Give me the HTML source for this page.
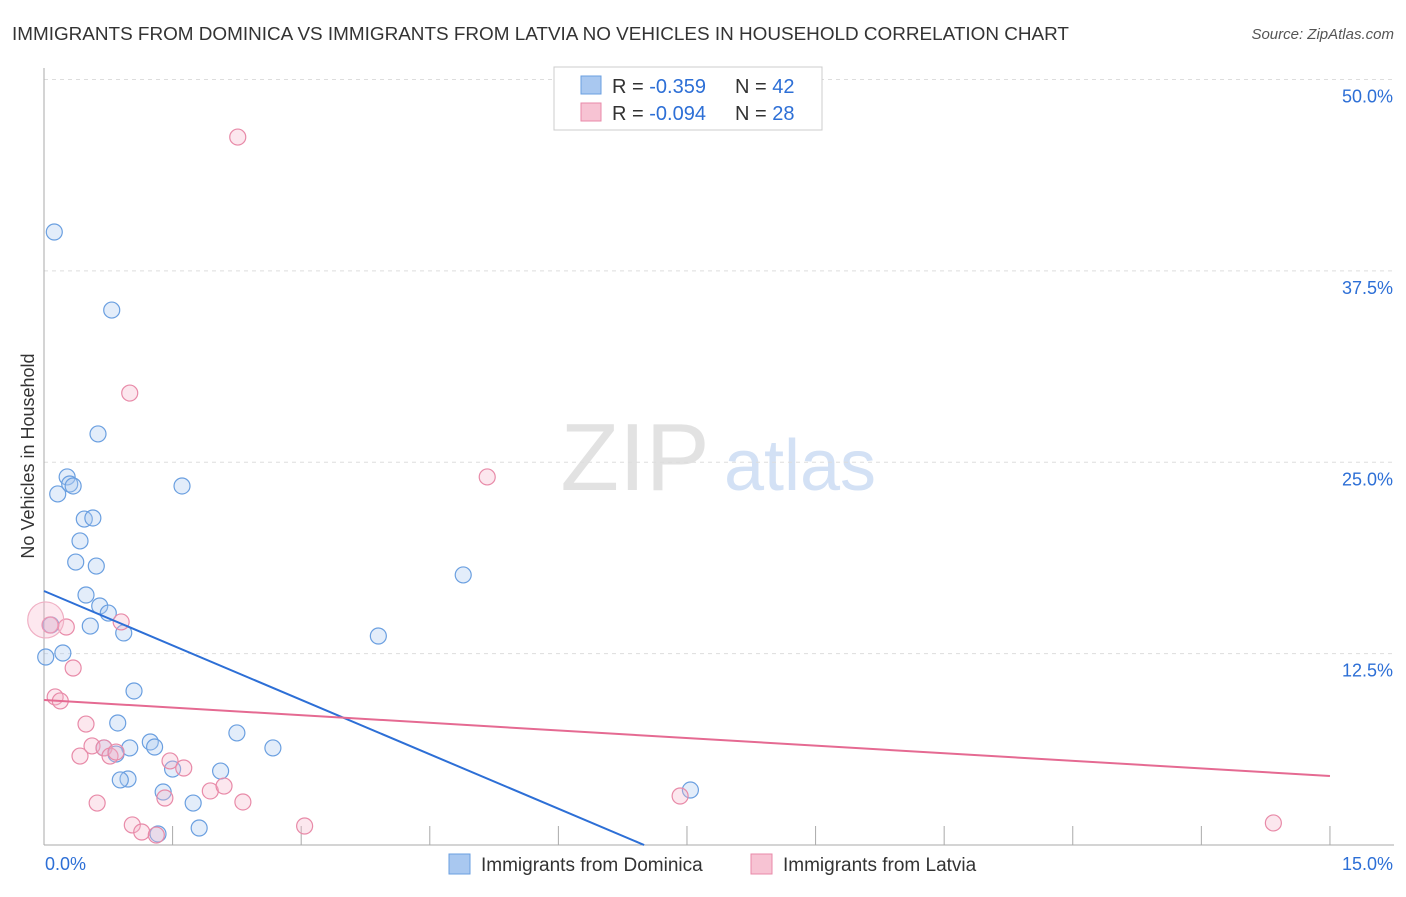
<!DOCTYPE html>
<html><head><meta charset="utf-8"><style>
body{margin:0;background:#fff;font-family:"Liberation Sans",sans-serif;}
svg text{font-family:"Liberation Sans",sans-serif;}
</style></head><body>
<svg id="c" width="1406" height="892" xmlns="http://www.w3.org/2000/svg">
<text x="12" y="40" font-size="18.9" fill="#333">IMMIGRANTS FROM DOMINICA VS IMMIGRANTS FROM LATVIA NO VEHICLES IN HOUSEHOLD CORRELATION CHART</text>
<text x="1394" y="39" font-size="15" fill="#555" font-style="italic" text-anchor="end">Source: ZipAtlas.com</text>
<g><text x="635" y="490" font-size="96" fill="#e2e2e2" font-family="Liberation Serif" text-anchor="middle">ZIP</text><text x="800" y="490" font-size="72" fill="#d3e1f5" text-anchor="middle">atlas</text></g>
<g id="grid"></g><g id="axes"></g><g id="marks"></g>
<text transform="translate(34,456) rotate(-90)" font-size="18" fill="#333" text-anchor="middle">No Vehicles in Household</text>
<g>
<rect x="554" y="67" width="268" height="63" fill="#fff" stroke="#ccc"/>
<rect x="581" y="76" width="20" height="18" fill="#a9c8f0" stroke="#6a9fe0"/>
<rect x="581" y="103" width="20" height="18" fill="#f7c3d3" stroke="#e88aa8"/>
<text x="612" y="93" font-size="20" fill="#333">R = <tspan fill="#2d6fd6">-0.359</tspan><tspan x="735">N = </tspan><tspan fill="#2d6fd6">42</tspan></text>
<text x="612" y="120" font-size="20" fill="#333">R = <tspan fill="#2d6fd6">-0.094</tspan><tspan x="735">N = </tspan><tspan fill="#2d6fd6">28</tspan></text>
</g>
<g>
<rect x="449" y="854" width="21" height="20" fill="#a9c8f0" stroke="#6a9fe0"/>
<text x="481" y="871" font-size="19" fill="#333">Immigrants from Dominica</text>
<rect x="751" y="854" width="21" height="20" fill="#f7c3d3" stroke="#e88aa8"/>
<text x="783" y="871" font-size="19" fill="#333">Immigrants from Latvia</text>
</g>
</svg>
<script>
const yTicks=[12.5,25.0,37.5,50.0];
const yTickLabels=["12.5%","25.0%","37.5%","50.0%"];
const xTicks=[0,1.5,3,4.5,6,7.5,9,10.5,12,13.5,15];
const domX=[0.12,0.79,0.63,0.27,0.16,0.30,0.34,1.61,0.47,0.57,0.42,0.37,0.61,4.89,0.49,0.65,0.75,0.54,0.08,0.93,3.90,0.22,0.02,1.05,0.86,2.25,1.24,1.29,1.00,2.67,0.70,0.84,1.50,2.06,0.98,0.89,1.39,1.74,7.54,1.81,1.33];
const domY=[40.04,34.94,26.85,24.04,22.93,23.58,23.45,23.45,21.29,21.36,19.86,18.48,18.22,17.64,16.33,15.61,15.15,14.30,14.37,13.85,13.65,12.54,12.28,10.06,7.97,7.32,6.73,6.40,6.34,6.34,6.34,5.94,4.96,4.83,4.31,4.25,3.46,2.74,3.59,1.11,0.72];
const latX=[2.26,1.00,5.17,0.07,0.26,0.90,0.34,0.13,0.19,0.49,0.56,0.70,0.42,0.77,0.84,1.47,1.63,1.94,2.10,1.41,0.62,2.32,1.03,1.14,1.31,3.04,7.42,14.34,0.02];
const latY=[46.24,29.52,24.04,14.37,14.24,14.57,11.56,9.67,9.41,7.90,6.47,6.34,5.81,5.81,6.07,5.49,5.03,3.53,3.85,3.07,2.74,2.81,1.31,0.85,0.65,1.24,3.20,1.44,14.70];
const domTrend=[16.59,-2.37];
const latTrend=[9.47,-0.331];
const X=v=>44+v*85.73, Y=v=>845-v*15.31;
const NS='http://www.w3.org/2000/svg';
function mk(t,a,p){const e=document.createElementNS(NS,t);for(const k in a)e.setAttribute(k,a[k]);p.appendChild(e);return e;}
const g=document.getElementById('grid'),ax=document.getElementById('axes'),m=document.getElementById('marks');
yTicks.forEach((t,i)=>{
const l=mk('line',{x1:44,x2:1394,y1:Y(t),y2:Y(t),stroke:'#ddd','stroke-dasharray':'4,4'},g);


const tx=mk('text',{x:1393,y:Y(t)+23,'font-size':18,fill:'#2d6fd6','text-anchor':'end'},ax);tx.textContent=yTickLabels[i];


});
const yl=mk('line',{x1:44,x2:44,y1:68,y2:845,stroke:'#aaa'},ax);


const xl=mk('line',{x1:44,x2:1394,y1:845,y2:845,stroke:'#aaa'},ax);


xTicks.forEach(t=>{const l=mk('line',{x1:X(t),x2:X(t),y1:826,y2:845,stroke:'#aaa'},ax);

});
const x0=mk('text',{x:45,y:870,'font-size':18,fill:'#2d6fd6'},ax);x0.textContent='0.0%';


const x1=mk('text',{x:1393,y:870,'font-size':18,fill:'#2d6fd6','text-anchor':'end'},ax);x1.textContent='15.0%';


domX.forEach((v,i)=>{const c=mk('circle',{cx:X(v),cy:Y(domY[i]),r:8,fill:'rgba(169,200,240,0.32)',stroke:'#6a9fe0','stroke-width':1.2},m);

});
latX.forEach((v,i)=>{const big=i==latX.length-1;const c=mk('circle',{cx:X(v),cy:Y(latY[i]),r:big?18:8,fill:big?'rgba(247,180,202,0.3)':'rgba(247,180,202,0.32)',stroke:big?'#f0b0c4':'#e88aa8','stroke-width':1.2},m);

});
const bEnd=-domTrend[0]/domTrend[1];
const bl=mk('line',{x1:X(0),y1:Y(domTrend[0]),x2:X(bEnd),y2:Y(0),stroke:'#2d6fd6','stroke-width':2},m);


const pl=mk('line',{x1:X(0),y1:Y(latTrend[0]),x2:X(15),y2:Y(latTrend[0]+latTrend[1]*15),stroke:'#e56a92','stroke-width':2},m);


</script>
</body></html>
